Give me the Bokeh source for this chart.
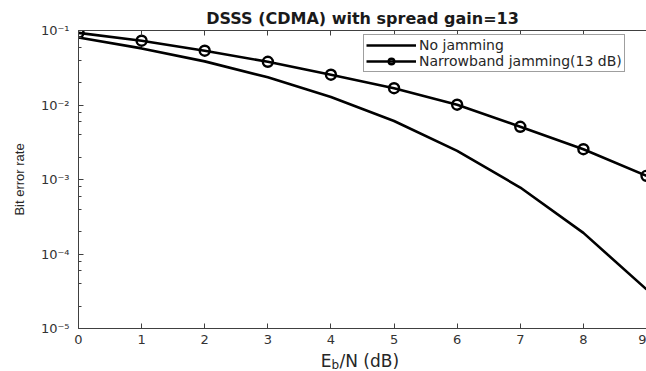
from bokeh.plotting import figure
from bokeh.layouts import column
from bokeh.models import (Range1d, LinearAxis, FixedTicker, Legend, LegendItem,
                          CustomJSTickFormatter, LogTicker, ColumnDataSource)
from bokeh.embed import file_html
from bokeh.resources import INLINE

ebn = [0, 1, 2, 3, 4, 5, 6, 7, 8, 9]
ber_no_jam = [0.0805, 0.0575, 0.0385, 0.0235, 0.0128, 0.0061, 0.00242, 0.00078, 0.000192, 0.0000335]
ber_narrow = [0.093, 0.073, 0.0535, 0.038, 0.0255, 0.0168, 0.0101, 0.0051, 0.00255, 0.00112]
y_ticks = [1e-5, 1e-4, 1e-3, 1e-2, 1e-1]
x_ticks = [0, 1, 2, 3, 4, 5, 6, 7, 8, 9]
title_text = "DSSS (CDMA) with spread gain=13"
legend_labels = ["No jamming", "Narrowband jamming(13 dB)"]
xlabel_parts = ["E", "b", "/N  (dB)"]

FONT = "DejaVu Sans"
GRAY = "#404040"
TXT = "#262626"

xr = Range1d(0, 9)
p = figure(width=646, height=350, y_axis_type="log", output_backend="svg",
           toolbar_location=None, x_range=xr, y_range=Range1d(1e-5, 1e-1),
           min_border_left=78, min_border_right=0, min_border_top=30, min_border_bottom=22)
p.title.text = title_text
p.title.align = "center"
p.title.text_font = FONT
p.title.text_font_size = "16px"
p.title.text_font_style = "bold"
p.title.text_color = "#1a1a1a"
p.title.offset = 0
p.title.standoff = 5
p.outline_line_color = None
p.background_fill_color = "white"
p.border_fill_color = "white"
p.xgrid.visible = False
p.ygrid.visible = False

l1 = p.line(ebn, ber_no_jam, line_color="black", line_width=2.6)
l2 = p.line(ebn, ber_narrow, line_color="black", line_width=2.6)
c2 = p.scatter(ebn, ber_narrow, marker="circle", size=10, fill_color=None,
               line_color="black", line_width=2.4)

for ax in (p.xaxis[0], p.yaxis[0]):
    ax.axis_line_color = GRAY
    ax.major_tick_line_color = GRAY
    ax.minor_tick_line_color = GRAY
    ax.major_tick_in = 5
    ax.major_tick_out = 0
    ax.minor_tick_in = 3
    ax.minor_tick_out = 0
    ax.major_label_text_font = FONT
    ax.major_label_text_font_size = "13px"
    ax.major_label_text_color = "#333333"

p.xaxis.ticker = FixedTicker(ticks=x_ticks)
p.xaxis.minor_tick_line_color = None
p.xaxis.major_label_standoff = 6

p.yaxis.ticker = LogTicker(desired_num_ticks=len(y_ticks))
p.yaxis.formatter = CustomJSTickFormatter(code="""
const sup = {'-':'\u207b','0':'\u2070','1':'\u00b9','2':'\u00b2','3':'\u00b3','4':'\u2074','5':'\u2075','6':'\u2076','7':'\u2077','8':'\u2078','9':'\u2079'};
const e = Math.round(Math.log10(tick)).toString();
return '10' + e.split('').map(c => sup[c]).join('');
""")
p.yaxis.major_label_standoff = 9
p.yaxis.axis_label = "Bit error rate"
p.yaxis.axis_label_text_font = "Liberation Sans"
p.yaxis.axis_label_text_font_style = "normal"
p.yaxis.axis_label_text_font_size = "13px"
p.yaxis.axis_label_text_color = TXT
p.yaxis.axis_label_standoff = 11

top_ax = LinearAxis(ticker=FixedTicker(ticks=x_ticks), major_label_text_font_size="0px",
                    major_label_standoff=0,
                    axis_line_color=GRAY, major_tick_line_color=GRAY,
                    major_tick_in=5, major_tick_out=0, minor_tick_line_color=None)
p.add_layout(top_ax, "above")

legend = Legend(items=[LegendItem(label=legend_labels[0], renderers=[l1]),
                       LegendItem(label=legend_labels[1], renderers=[l2, c2])],
                location=(285, 256), border_line_color=GRAY, border_line_width=1.2,
                label_text_font=FONT, label_text_font_size="14px", label_text_color=TXT,
                glyph_width=50, glyph_height=14, spacing=0, padding=2, margin=0,
                label_standoff=3, label_height=14, background_fill_alpha=1)
p.add_layout(legend, "center")

# strip below the plot carrying the x-axis label E_b/N  (dB)
s = figure(width=646, height=21, output_backend="svg", toolbar_location=None,
           x_range=xr, y_range=Range1d(0, 1), min_border_left=78, min_border_right=0,
           min_border_top=0, min_border_bottom=0)
s.axis.visible = False
s.grid.visible = False
s.outline_line_color = None
s.background_fill_color = "white"
s.border_fill_color = "white"
src = ColumnDataSource(dict(x=[4.5, 4.5, 4.5], y=[0.52, 0.52, 0.52], t=xlabel_parts,
                            xo=[-31, -31, -23], yo=[0, 4, 0], fs=["17px", "12px", "17px"],
                            al=["right", "left", "left"]))
s.text(x="x", y="y", text="t", x_offset="xo", y_offset="yo", text_font_size="fs",
       text_align="al", text_baseline="alphabetic", text_color=TXT,
       text_font={"value": FONT}, source=src)

layout = column(p, s, spacing=0)
open("out.html", "w").write(file_html(layout, INLINE))
